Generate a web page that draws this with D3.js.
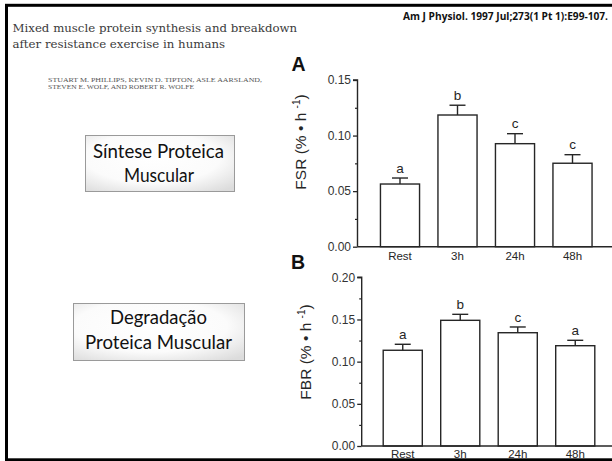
<!DOCTYPE html>
<html><head><meta charset="utf-8">
<script src="https://cdn.jsdelivr.net/npm/d3@7"></script>
<style>html,body{margin:0;padding:0;background:#fff;overflow:hidden}</style>
</head><body>
<svg id="c" width="612" height="461"></svg>
<script>
const categories = ["Rest", "3h", "24h", "48h"];
const fsrMean = [0.0564, 0.1185, 0.0927, 0.0751];
const fsrErr = [0.0054, 0.0088, 0.0090, 0.0077];
const fsrLetters = ["a", "b", "c", "c"];
const fbrMean = [0.1135, 0.1490, 0.1343, 0.1189];
const fbrErr = [0.0071, 0.0071, 0.0068, 0.0064];
const fbrLetters = ["a", "b", "c", "a"];
const fsrTicks = [0, 0.05, 0.10, 0.15];
const fsrMinor = [0.025, 0.075, 0.125];
const fbrTicks = [0, 0.05, 0.10, 0.15, 0.20];
const fbrMinor = [0.025, 0.075, 0.125, 0.175];

const svg = d3.select("#c");
const ink = "#262626";

const defs = svg.append("defs");
const g1 = defs.append("radialGradient").attr("id", "boxg").attr("cx", "45%").attr("cy", "40%").attr("r", "75%");
g1.append("stop").attr("offset", "0%").attr("stop-color", "#ffffff");
g1.append("stop").attr("offset", "60%").attr("stop-color", "#fbfbfb");
g1.append("stop").attr("offset", "100%").attr("stop-color", "#dcdcdc");

// frame
svg.append("rect").attr("x", 6.5).attr("y", 5.3).attr("width", 640).attr("height", 454.5)
  .attr("fill", "none").attr("stroke", "#000").attr("stroke-width", 3);

// header texts: title sized so line 1 spans the measured width
const t1 = svg.append("text").attr("x", 12.5).attr("y", 32).attr("font-family", "DejaVu Serif")
  .attr("font-size", 12).attr("fill", "#3a3a3a")
  .text("Mixed muscle protein synthesis and breakdown");
const w1 = t1.node().getComputedTextLength();
const fs = 12 * 285 / w1;
t1.attr("font-size", fs);
svg.append("text").attr("x", 12.5).attr("y", 47.5).attr("font-family", "DejaVu Serif")
  .attr("font-size", fs).attr("fill", "#3a3a3a")
  .text("after resistance exercise in humans");
svg.append("text").attr("x", 48).attr("y", 81.5).attr("font-family", "Liberation Serif")
  .attr("font-size", 6.5).attr("fill", "#555").attr("textLength", 214).attr("lengthAdjust", "spacingAndGlyphs")
  .text("STUART M. PHILLIPS, KEVIN D. TIPTON, ASLE AARSLAND,");
svg.append("text").attr("x", 48).attr("y", 88.5).attr("font-family", "Liberation Serif")
  .attr("font-size", 6.5).attr("fill", "#555").attr("textLength", 146).attr("lengthAdjust", "spacingAndGlyphs")
  .text("STEVEN E. WOLF, AND ROBERT R. WOLFE");
svg.append("text").attr("x", 403).attr("y", 19.5).attr("font-family", "Open Sans")
  .attr("font-size", 11).attr("font-weight", "bold").attr("fill", "#111").attr("textLength", 205).attr("lengthAdjust", "spacingAndGlyphs")
  .text("Am J Physiol. 1997 Jul;273(1 Pt 1):E99-107.");

function box(x, y, w, h, lines) {
  svg.append("rect").attr("x", x + 0.5).attr("y", y + 0.5).attr("width", w).attr("height", h)
    .attr("fill", "url(#boxg)").attr("stroke", "#9a9a9a").attr("stroke-width", 1);
  lines.forEach(l => {
    svg.append("text").attr("x", l.cx).attr("y", l.y).attr("text-anchor", "middle")
      .attr("font-family", "Lato").attr("font-size", 18.5).attr("fill", "#111")
      .attr("textLength", l.w).attr("lengthAdjust", "spacingAndGlyphs").text(l.t);
  });
}
box(85, 135, 149, 56, [
  {t: "Síntese Proteica", cx: 158.5, y: 157.5, w: 131},
  {t: "Muscular", cx: 159, y: 182, w: 70}
]);
box(73, 303, 171, 57, [
  {t: "Degradação", cx: 158.5, y: 324, w: 97},
  {t: "Proteica Muscular", cx: 158.5, y: 349, w: 147}
]);

function panel(opt) {
  const x = d3.scaleBand().domain(categories).range(opt.xr).paddingInner(0.32).paddingOuter(0.16);
  const y = d3.scaleLinear().domain(opt.dom).range(opt.yr);
  const g = svg.append("g");
  g.selectAll("rect.bar").data(categories).join("rect")
    .attr("x", d => x(d)).attr("width", x.bandwidth())
    .attr("y", (d, i) => y(opt.mean[i])).attr("height", (d, i) => y(0) - y(opt.mean[i]))
    .attr("fill", "#fff").attr("stroke", ink).attr("stroke-width", 1.4);
  categories.forEach((c, i) => {
    const cx = x(c) + x.bandwidth() / 2;
    const top = y(opt.mean[i] + opt.err[i]);
    g.append("line").attr("x1", cx).attr("x2", cx).attr("y1", y(opt.mean[i])).attr("y2", top)
      .attr("stroke", ink).attr("stroke-width", 1.4);
    g.append("line").attr("x1", cx - 8).attr("x2", cx + 8).attr("y1", top).attr("y2", top)
      .attr("stroke", ink).attr("stroke-width", 1.4);
    g.append("text").attr("x", cx).attr("y", top - opt.lgap).attr("text-anchor", "middle")
      .attr("font-family", "Liberation Sans").attr("font-size", 13.5).attr("fill", ink).text(opt.letters[i]);
  });
  g.append("line").attr("x1", opt.ax).attr("x2", 612).attr("y1", y(0)).attr("y2", y(0))
    .attr("stroke", ink).attr("stroke-width", 1.4);
  g.selectAll("text.cat").data(categories).join("text")
    .attr("x", d => x(d) + x.bandwidth() / 2).attr("y", opt.catY).attr("text-anchor", "middle")
    .attr("font-family", "Liberation Sans").attr("font-size", 11.5).attr("fill", ink).text(d => d);
  const yAxis = d3.axisLeft(y).tickValues(opt.ticks).tickFormat(d3.format(".2f")).tickSize(4.5).tickPadding(2);
  const ga = g.append("g").attr("transform", `translate(${opt.ax},0)`).call(yAxis);
  ga.select(".domain").attr("stroke", ink).attr("stroke-width", 1.4).attr("d", `M-4.5,${y(opt.dom[1])}H0V${y(0)}`);
  ga.selectAll(".tick line").attr("stroke", ink).attr("stroke-width", 1.3);
  ga.selectAll(".tick text").attr("font-family", "Liberation Sans").attr("font-size", 12).attr("fill", "#333");
  const minor = d3.axisLeft(y).tickValues(opt.minor).tickFormat("").tickSize(2.5);
  const gm = g.append("g").attr("transform", `translate(${opt.ax},0)`).call(minor);
  gm.select(".domain").remove();
  gm.selectAll(".tick line").attr("stroke", ink).attr("stroke-width", 1.2);
  const t = g.append("text").attr("transform", `translate(${opt.lx},${opt.ly}) rotate(-90)`)
    .attr("text-anchor", "middle").attr("font-family", "Liberation Sans").attr("font-size", 15.5).attr("fill", ink);
  t.append("tspan").text(opt.label + " (% \u2022 h ");
  t.append("tspan").attr("font-size", 10).attr("dy", -6).text("-1");
  t.append("tspan").attr("dy", 6).text(")");
  svg.append("text").attr("x", opt.px).attr("y", opt.py).attr("font-family", "Liberation Sans")
    .attr("font-weight", "bold").attr("font-size", 19.5).attr("fill", "#111").text(opt.panel);
}

panel({mean: fsrMean, err: fsrErr, letters: fsrLetters, ticks: fsrTicks, minor: fsrMinor,
  dom: [0, 0.15], yr: [246.7, 80], xr: [371.25, 601.25], ax: 357.5, catY: 259.5, lgap: 5.5,
  label: "FSR", lx: 306, ly: 142, panel: "A", px: 291.5, py: 71});
panel({mean: fbrMean, err: fbrErr, letters: fbrLetters, ticks: fbrTicks, minor: fbrMinor,
  dom: [0, 0.20], yr: [446, 277.3], xr: [374, 604], ax: 361.7, catY: 458, lgap: 5,
  label: "FBR", lx: 310.5, ly: 352, panel: "B", px: 291, py: 269});
</script>
</body></html>
